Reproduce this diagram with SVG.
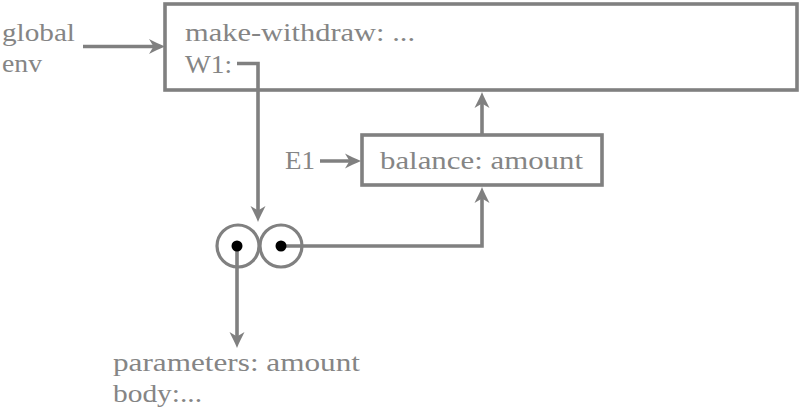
<svg xmlns="http://www.w3.org/2000/svg" width="800" height="409" viewBox="0 0 800 409">
  <defs>
    <style>
      text { font-family: 'Liberation Serif', 'Times New Roman', serif; font-size: 26px; fill: #858585; }
      .box { fill: #ffffff; stroke: #808080; stroke-width: 3.6; }
      .ln { fill: none; stroke: #808080; stroke-width: 3.6; }
      .ring { fill: none; stroke: #808080; stroke-width: 3.2; }
      .dot { fill: #000000; }
    </style>
    <marker id="arr" markerUnits="userSpaceOnUse" markerWidth="22" markerHeight="22" viewBox="-2 -11 22 22" refX="10" refY="0" orient="auto">
      <path d="M16,0 C11,-2 5,-5 0,-7.5 L4.5,0 L0,7.5 C5,5 11,2 16,0 Z" fill="#808080"/>
    </marker>
  </defs>

  <g id="global-env">
    <text x="2" y="41" textLength="73" lengthAdjust="spacingAndGlyphs">global</text>
    <text x="2" y="72" textLength="40" lengthAdjust="spacingAndGlyphs">env</text>
  </g>

  <g id="global-frame">
    <rect class="box" x="165" y="4" width="632" height="86"/>
    <text x="185" y="41" textLength="230" lengthAdjust="spacingAndGlyphs">make-withdraw: ...</text>
    <text x="185" y="73" textLength="47" lengthAdjust="spacingAndGlyphs">W1:</text>
  </g>

  <g id="E1-label">
    <text x="285" y="169" textLength="30" lengthAdjust="spacingAndGlyphs">E1</text>
  </g>

  <g id="E1-frame">
    <rect class="box" x="362" y="135" width="240" height="50"/>
    <text x="380" y="169" textLength="203" lengthAdjust="spacingAndGlyphs">balance: amount</text>
  </g>

  <g id="procedure">
    <circle class="ring" cx="238" cy="246" r="21"/>
    <circle class="ring" cx="281" cy="246" r="21"/>
  </g>

  <g id="code-text">
    <text x="113" y="371" textLength="247" lengthAdjust="spacingAndGlyphs">parameters: amount</text>
    <text x="113" y="402" textLength="89" lengthAdjust="spacingAndGlyphs">body:...</text>
  </g>

  <g id="connectors">
    <line class="ln" x1="83" y1="46.5" x2="159" y2="46.5" marker-end="url(#arr)"/>
    <polyline class="ln" points="237,63.5 258,63.5 258,216" marker-end="url(#arr)"/>
    <line class="ln" x1="237" y1="246" x2="237" y2="342" marker-end="url(#arr)"/>
    <polyline class="ln" points="281,246 482,246 482,193" marker-end="url(#arr)"/>
    <line class="ln" x1="482" y1="135" x2="482" y2="98" marker-end="url(#arr)"/>
    <line class="ln" x1="320" y1="161" x2="355" y2="161" marker-end="url(#arr)"/>
  </g>

  <g id="pointer-dots">
    <circle class="dot" cx="237" cy="246" r="5.5"/>
    <circle class="dot" cx="281" cy="246" r="5.5"/>
  </g>
</svg>
